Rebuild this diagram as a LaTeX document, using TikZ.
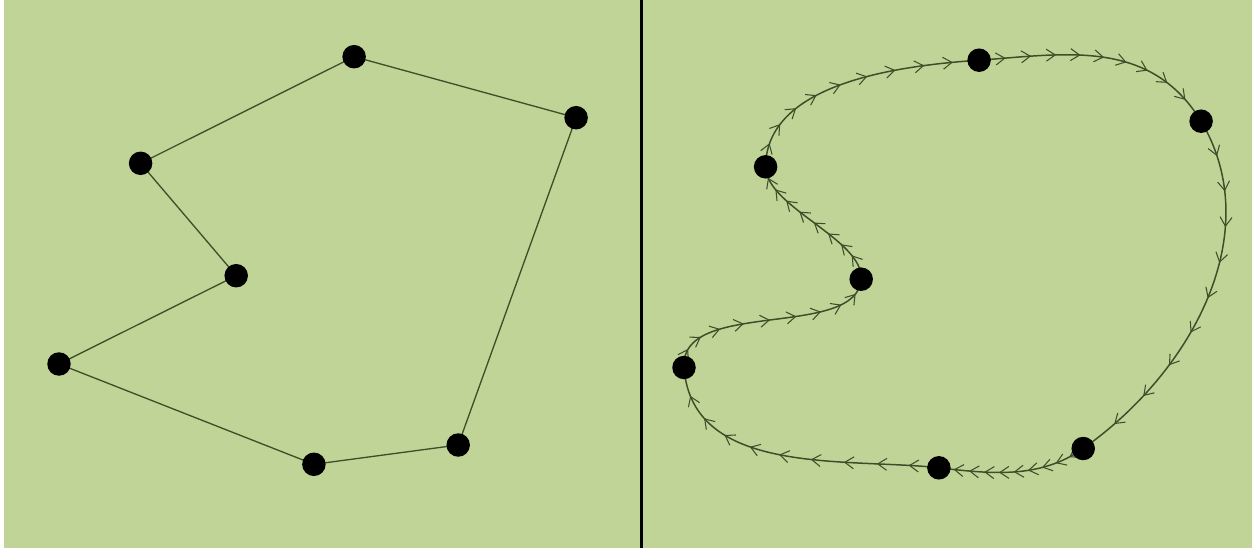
\documentclass[tikz,border=0pt]{standalone}
\usetikzlibrary{backgrounds}
\definecolor{bgGreen}{RGB}{193,212,152}
\definecolor{lineGreen}{RGB}{62,78,40}
\begin{document}
\begin{tikzpicture}[x=0.02cm,y=-0.02cm,
  dot/.style={circle,fill=black,inner sep=0pt,minimum size=0.47cm},
  edgeline/.style={draw=lineGreen,line width=0.75pt},
  curveline/.style={draw=lineGreen,line width=0.85pt},
  chev/.style={draw=lineGreen,line width=0.6pt,line join=miter}]
\useasboundingbox (0,0) rectangle (1252,548);
% left panel points
\node[dot] (l1) at (354.1,56.7) {};
\node[dot] (l2) at (576.1,117.7) {};
\node[dot] (l3) at (140.6,163.3) {};
\node[dot] (l4) at (236.2,275.7) {};
\node[dot] (l5) at (59.0,364.0) {};
\node[dot] (l6) at (313.9,464.3) {};
\node[dot] (l7) at (458.2,445.0) {};
% right panel points
\node[dot] (r1) at (979.1,60.2) {};
\node[dot] (r2) at (1201.1,121.2) {};
\node[dot] (r3) at (765.6,166.8) {};
\node[dot] (r4) at (861.2,279.2) {};
\node[dot] (r5) at (684.0,367.5) {};
\node[dot] (r6) at (938.9,467.8) {};
\node[dot] (r7) at (1083.2,448.5) {};
\begin{scope}[on background layer]
\fill[white] (0,0) rectangle (1252,548);
\fill[bgGreen] (4,0) rectangle (1252,548);
\fill[black] (639.8,0) rectangle (642.8,548);
% polygon
\draw[edgeline] (l1.center) -- (l2.center) -- (l7.center) -- (l6.center) -- (l5.center) -- (l4.center) -- (l3.center) -- (l1.center);
% smooth curve
\draw[curveline] (r1.center) .. controls (1065,54) and (1150,38) .. (r2.center)
  .. controls (1267,232) and (1193,371) .. (r7.center)
  .. controls (1039.9,479) and (991.6,474) .. (r6.center)
  .. controls (847,457.5) and (692,477) .. (r5.center)
  .. controls (679,298) and (857,340) .. (r4.center)
  .. controls (863.8,239.3) and (766,207) .. (r3.center)
  .. controls (766,85) and (892,66) .. (r1.center);
% chevrons at t = 0.1 ... 0.9 of each segment
\foreach \qa/\qb/\qc/\qd/\qe/\qf/\qg/\qh in {
  979.1/60.2/1065/54/1150/38/1201.1/121.2,
  1201.1/121.2/1267/232/1193/371/1083.2/448.5,
  1083.2/448.5/1039.9/479/991.6/474/938.9/467.8,
  938.9/467.8/847/457.5/692/477/684/367.5,
  684/367.5/679/298/857/340/861.2/279.2,
  861.2/279.2/863.8/239.3/766/207/765.6/166.8,
  765.6/166.8/766/85/892/66/979.1/60.2}{
  \foreach \tT in {0.1,0.2,0.3,0.4,0.5,0.6,0.7,0.8,0.9}{
    \pgfmathsetmacro{\tS}{1-\tT}
    \pgfmathsetmacro{\mx}{\tS*\tS*\tS*\qa+3*\tS*\tS*\tT*\qc+3*\tS*\tT*\tT*\qe+\tT*\tT*\tT*\qg}
    \pgfmathsetmacro{\my}{\tS*\tS*\tS*\qb+3*\tS*\tS*\tT*\qd+3*\tS*\tT*\tT*\qf+\tT*\tT*\tT*\qh}
    \pgfmathsetmacro{\vx}{0.03*\tS*\tS*(\qc-\qa)+0.06*\tS*\tT*(\qe-\qc)+0.03*\tT*\tT*(\qg-\qe)}
    \pgfmathsetmacro{\vy}{0.03*\tS*\tS*(\qd-\qb)+0.06*\tS*\tT*(\qf-\qd)+0.03*\tT*\tT*(\qh-\qf)}
    \pgfmathsetmacro{\vn}{sqrt(\vx*\vx+\vy*\vy)}
    \pgfmathsetmacro{\ux}{\vx/\vn}
    \pgfmathsetmacro{\uy}{\vy/\vn}
    \draw[chev] (\mx-9*\ux-6*\uy,\my-9*\uy+6*\ux) -- (\mx,\my) -- (\mx-9*\ux+6*\uy,\my-9*\uy-6*\ux);
  }
}
\end{scope}
\end{tikzpicture}
\end{document}
